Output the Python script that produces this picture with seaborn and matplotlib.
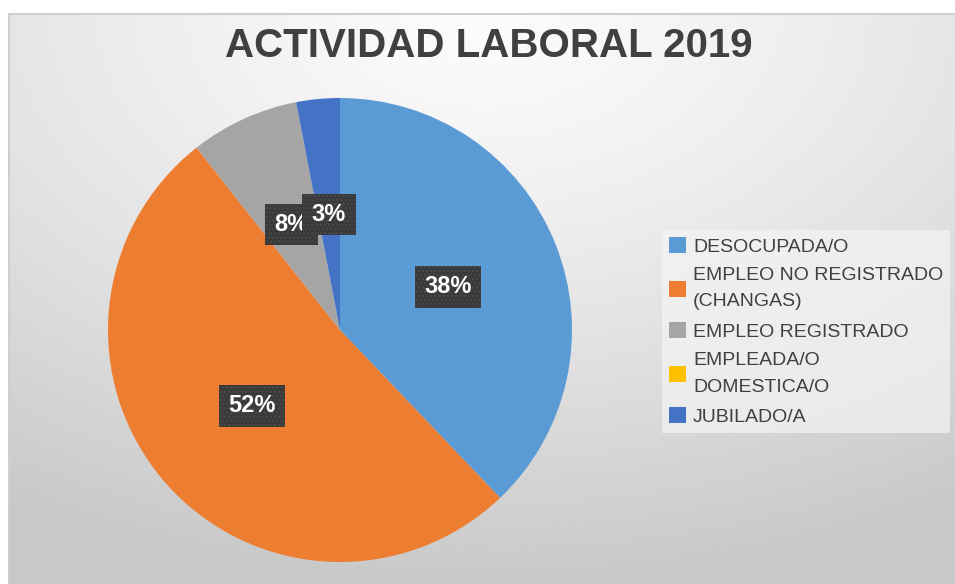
import numpy as np
import matplotlib
matplotlib.use("Agg")
import matplotlib.pyplot as plt
import seaborn as sns

# datos (cantidad de personas por categoria)
categorias = ["DESOCUPADA/O", "EMPLEO NO REGISTRADO\n(CHANGAS)", "EMPLEO REGISTRADO",
              "EMPLEADA/O\nDOMESTICA/O", "JUBILADO/A"]
cantidades = [25, 34, 5, 0, 2]
colores = ["#5B9BD5", "#ED7D31", "#A5A5A5", "#FFC000", "#4472C4"]
titulo = "ACTIVIDAD LABORAL 2019"

sns.set_theme(style="white")
plt.rcParams["font.family"] = ["Liberation Sans", "DejaVu Sans"]

W, H = 955, 584
fig = plt.figure(figsize=(W / 100, H / 100), dpi=100)
fig.patch.set_facecolor("white")

# fondo con degradado (area del grafico)
x0, y0 = 9, 14
bg = fig.add_axes([x0 / W, 0, 1 - x0 / W, (H - y0) / H], zorder=0)
gx, gy = np.meshgrid(np.linspace(0, 1, 300), np.linspace(0, 1, 200))
d = np.sqrt(((gx - 0.5) / 0.95) ** 2 + (gy / 1.0) ** 2)
d = np.clip(d, 0, 1)
val = 0.985 - 0.20 * d ** 1.3
bg.imshow(val, cmap="gray", vmin=0, vmax=1, aspect="auto", origin="upper",
          extent=[0, 1, 1, 0])
bg.set_xlim(0, 1)
bg.set_ylim(1, 0)
bg.axis("off")
fig.add_artist(plt.Line2D([x0 / W, 1], [1 - y0 / H, 1 - y0 / H], color="#cfcfcf", lw=1.5))
fig.add_artist(plt.Line2D([x0 / W, x0 / W], [0, 1 - y0 / H], color="#cfcfcf", lw=1.5))

# torta
cx, cy, r = 340, 330, 232
ax = fig.add_axes([(cx - r) / W, (H - cy - r) / H, 2 * r / W, 2 * r / H], zorder=1)


def etiqueta(p):
    return "" if p < 0.5 else f"{p:.0f}%"


wedges, texts, autotexts = ax.pie(
    cantidades, colors=colores, startangle=90, counterclock=False,
    autopct=etiqueta, pctdistance=0.5, radius=1,
    wedgeprops=dict(linewidth=0),
)
for t in autotexts:
    t.set_color("white")
    t.set_fontweight("bold")
    t.set_fontsize(17)
    t.set_bbox(dict(boxstyle="square,pad=0.4", facecolor="#3a3a3a",
                    edgecolor="#4a4a4a", linewidth=0, hatch="...."))
ax.set_xlim(-1, 1)
ax.set_ylim(-1, 1)
ax.set_aspect("equal")
ax.axis("off")

fig.text(489 / W, 1 - 46 / H, titulo, ha="center", va="center",
         fontsize=29, fontweight="bold", color="#404040")

leg = fig.legend(wedges, categorias, loc="upper left",
                 bbox_to_anchor=(662 / W, 1 - 230 / H),
                 frameon=True, fontsize=14, handlelength=0.9, handleheight=0.9,
                 handletextpad=0.35, labelspacing=0.6, borderpad=0.35,
                 borderaxespad=0)
leg.get_frame().set_facecolor("#f4f4f4")
leg.get_frame().set_alpha(0.7)
leg.get_frame().set_edgecolor("none")
leg.get_frame().set_boxstyle("square", pad=0)
for t in leg.get_texts():
    t.set_color("#404040")
    t.set_linespacing(1.7)

fig.savefig("out.png", dpi=100)
